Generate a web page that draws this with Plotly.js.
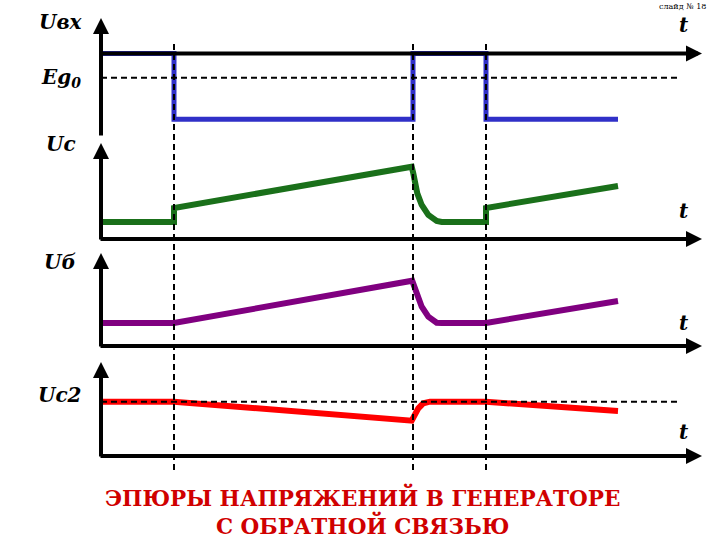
<!DOCTYPE html>
<html>
<head>
<meta charset="utf-8">
<script src="https://cdn.plot.ly/plotly-3.0.1.min.js"></script>
<style>html,body{margin:0;padding:0;background:#fff;}#chart{width:720px;height:540px;}</style>
</head>
<body>
<div id="chart"></div>
<script>
// ---- data (time in arbitrary units, voltages in relative units) ----
const switchTimes = [7.3, 31.2, 38.5];
const tEnd = 51.7;

const uvxT = [0, 7.3, 7.3, 31.2, 31.2, 38.5, 38.5, 51.7];
const uvxV = [0.835, 0.835, 0.177, 0.177, 0.835, 0.835, 0.177, 0.177];
const eg0Level = 0.593;

const ucT = [0, 7.3, 7.3, 31.07, 31.23, 31.4, 31.63, 32.07, 32.73, 33.57, 34.07, 38.5, 38.5, 51.7];
const ucV = [0.17, 0.17, 0.31, 0.723, 0.657, 0.557, 0.457, 0.34, 0.24, 0.18, 0.17, 0.17, 0.31, 0.53];

const ubT = [0, 7.3, 31.12, 31.4, 31.63, 32.07, 32.73, 33.57, 34.07, 38.5, 51.7];
const ubV = [0.23, 0.23, 0.653, 0.577, 0.493, 0.393, 0.293, 0.233, 0.23, 0.23, 0.45];

const uc2T = [0, 7.3, 31.07, 31.4, 31.73, 32.23, 32.9, 38.5, 51.7];
const uc2V = [0.543, 0.543, 0.353, 0.41, 0.477, 0.527, 0.543, 0.543, 0.45];
const uc2Level = 0.543;

const panelLabels = ['Uвх', 'Uc', 'Uб', 'Uc2'];
const timeLabel = 't';
const titleLines = ['ЭПЮРЫ НАПРЯЖЕНИЙ В ГЕНЕРАТОРЕ', 'С ОБРАТНОЙ СВЯЗЬЮ'];
const slideLabel = 'слайд № 18';

// ---- layout helpers ----
const W = 720, H = 540;
const py = p => 1 - p / H;   // pixel row -> paper y
const px = p => p / W;       // pixel col -> paper x

const xRange = [-10.1, 61.9];
const tAxisTip = 60.1;
const dashEnd = 57.7;

// panels: [baseline pixel, tip pixel]
const panels = [[137, 18], [239, 143], [346, 253], [456, 362]];
const yNames = ['y', 'y2', 'y3', 'y4'];
const yKeys = ['yaxis', 'yaxis2', 'yaxis3', 'yaxis4'];

const traces = [
  {x: uvxT, y: uvxV, yaxis: 'y', color: '#3030c8', w: 5},
  {x: ucT, y: ucV, yaxis: 'y2', color: '#1a701a', w: 6},
  {x: ubT, y: ubV, yaxis: 'y3', color: '#800080', w: 6},
  {x: uc2T, y: uc2V, yaxis: 'y4', color: '#ff0000', w: 6}
].map(s => ({
  type: 'scatter', mode: 'lines', x: s.x, y: s.y, xaxis: 'x', yaxis: s.yaxis,
  line: {color: s.color, width: s.w, shape: 'linear'}, hoverinfo: 'skip', showlegend: false
}));

const hiddenAxis = {showgrid: false, zeroline: false, showline: false, showticklabels: false, ticks: '', fixedrange: true};

const layout = {
  width: W, height: H,
  margin: {l: 0, r: 0, t: 0, b: 0},
  paper_bgcolor: '#fff', plot_bgcolor: 'rgba(0,0,0,0)',
  showlegend: false,
  xaxis: Object.assign({domain: [0, 1], range: xRange, anchor: 'y'}, hiddenAxis),
  shapes: [], annotations: []
};

panels.forEach((p, i) => {
  const span = (p[0] - p[1]) / 100;
  layout[yKeys[i]] = Object.assign({domain: [py(p[0]), py(p[1])], range: [0, span], anchor: 'x'}, hiddenAxis);
});

const tAxisLevel = [uvxV[0], 0, 0, 0];

const arrow = (x, y, ax, ay, yref) => ({
  x: x, y: y, ax: ax, ay: ay, xref: 'x', yref: yref, axref: 'x', ayref: yref,
  text: '', showarrow: true, arrowhead: 2, arrowsize: 0.8, arrowwidth: 4, arrowcolor: '#000', standoff: 0, startstandoff: 0
});

panels.forEach((p, i) => {
  const span = (p[0] - p[1]) / 100;
  layout.annotations.push(arrow(0, span, 0, i === 0 ? 0 : -0.02, yNames[i]));
  layout.annotations.push(arrow(tAxisTip, tAxisLevel[i], -0.2, tAxisLevel[i], yNames[i]));
});

layout.shapes.push({type: 'line', xref: 'x', yref: 'y', x0: 0, x1: dashEnd, y0: eg0Level, y1: eg0Level,
  line: {color: '#000', width: 2, dash: '6px,4px'}, layer: 'above'});
layout.shapes.push({type: 'line', xref: 'x', yref: 'y4', x0: 0, x1: dashEnd, y0: uc2Level, y1: uc2Level,
  line: {color: '#000', width: 2, dash: '6px,4px'}, layer: 'above'});
switchTimes.forEach(t => layout.shapes.push({type: 'line', xref: 'x', yref: 'paper', x0: t, x1: t, y0: py(470), y1: py(42),
  line: {color: '#000', width: 2, dash: '6px,4px'}, layer: 'above'}));

const SERIF = 'DejaVu Serif';
const labelFont = {family: SERIF, size: 20, color: '#000', weight: 'bold', style: 'italic'};
const txt = (text, x, y, font, xanchor) => ({text: text, x: px(x), y: py(y), xref: 'paper', yref: 'paper',
  showarrow: false, xanchor: xanchor || 'center', yanchor: 'middle', font: font});

layout.annotations.push(txt(panelLabels[0], 61, 22, labelFont));
layout.annotations.push(txt('Eg<sub>0</sub>', 61, 78, labelFont));
layout.annotations.push(txt(panelLabels[1], 61, 144, labelFont));
layout.annotations.push(txt(panelLabels[2], 60, 262, labelFont));
layout.annotations.push(txt(panelLabels[3], 60, 395, labelFont));
[25, 211, 323, 432].forEach(yy => layout.annotations.push(txt(timeLabel, 684, yy, labelFont)));
layout.annotations.push(txt(slideLabel, 682, 7, {family: 'DejaVu Serif', size: 8, color: '#000'}));
layout.annotations.push(txt(titleLines.join('<br>'), 362, 511,
  {family: SERIF, size: 21.5, color: '#d00000', weight: 'bold'}));

Plotly.newPlot('chart', traces, layout, {staticPlot: true, displayModeBar: false});
</script>
</body>
</html>
